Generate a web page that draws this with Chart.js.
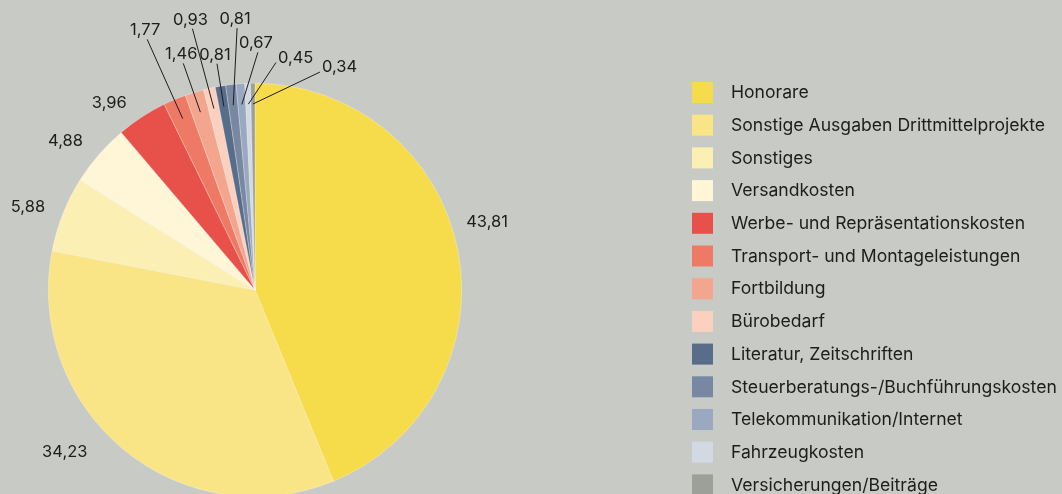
<!DOCTYPE html>
<html lang="de">
<head>
<meta charset="utf-8">
<title>Ausgaben</title>
<script src="https://cdn.jsdelivr.net/npm/chart.js@4.4.1/dist/chart.umd.min.js"></script>
<style>
    html, body {
        margin: 0;
        padding: 0;
        background: #c8cac5;
        overflow: hidden;
    }
    #wrap {
        position: relative;
        width: 1062px;
        height: 500px;
    }
</style>
</head>
<body>
<div id="wrap"><canvas id="pieChart"></canvas></div>
<script>
// Data
const categories = [
    'Honorare',
    'Sonstige Ausgaben Drittmittelprojekte',
    'Sonstiges',
    'Versandkosten',
    'Werbe- und Repräsentationskosten',
    'Transport- und Montageleistungen',
    'Fortbildung',
    'Bürobedarf',
    'Literatur, Zeitschriften',
    'Steuerberatungs-/Buchführungskosten',
    'Telekommunikation/Internet',
    'Fahrzeugkosten',
    'Versicherungen/Beiträge'
];
const shares = [43.81, 34.23, 5.88, 4.88, 3.96, 1.77, 1.46, 0.93, 0.81, 0.81, 0.67, 0.45, 0.34];

const sliceColors = [
    '#f6dc4a', '#f9e586', '#fcefb4', '#fef6d6',
    '#e8514a', '#ee7a66', '#f4a58e', '#fbd0bf',
    '#586d8a', '#7888a3', '#9aa8c0', '#d2d9e4', '#9d9f99'
];

// Label placement: shift from slice middle (deg), distance (x radius), leader line, text side
const labelShift = [-5.2, 10.2, -1.4, -2.8, -4.8, -0.4, -0.5, -0.7, 0.1, 2.8, 4.75, 7.3, 17.2];
const labelDist = [1.17, 1.21, 1.17, 1.165, 1.145, 1.32, 1.15, 1.30, 1.11, 1.27, 1.15, 1.105, 1.10];
const labelSide = ['c', 'c', 'c', 'c', 'c', 'up', 'up', 'up', 'up', 'up', 'up', 'right', 'right'];

const FONT = 'Inter, "DejaVu Sans", sans-serif';
const TEXT = '#1d1d1b';

function fmt(v) {
    return v.toFixed(2).replace('.', ',');
}

// slice labels with leader lines for the small ones
const sliceLabels = {
    id: 'sliceLabels',
    afterDatasetsDraw(chart) {
        const ctx = chart.ctx;
        const meta = chart.getDatasetMeta(0);
        ctx.save();
        ctx.font = '16.5px ' + FONT;
        ctx.fillStyle = TEXT;
        ctx.strokeStyle = '#1d1d1b';
        ctx.lineWidth = 1;
        meta.data.forEach((arc, i) => {
            const r = arc.outerRadius;
            const mid = (arc.startAngle + arc.endAngle) / 2;
            const a = mid + labelShift[i] * Math.PI / 180;
            const px = arc.x + Math.cos(a) * r * labelDist[i];
            const py = arc.y + Math.sin(a) * r * labelDist[i];
            const txt = fmt(shares[i]);
            if (labelSide[i] === 'c') {
                ctx.textAlign = 'center';
                ctx.textBaseline = 'middle';
                ctx.fillText(txt, px, py);
                return;
            }
            // leader line from inside the slice
            const ix = arc.x + Math.cos(mid) * r * 0.9;
            const iy = arc.y + Math.sin(mid) * r * 0.9;
            ctx.beginPath();
            ctx.moveTo(ix, iy);
            ctx.lineTo(px, py);
            ctx.stroke();
            if (labelSide[i] === 'up') {
                ctx.textAlign = 'center';
                ctx.textBaseline = 'alphabetic';
                ctx.fillText(txt, px - 2, py - 4);
            } else {
                ctx.textAlign = 'left';
                ctx.textBaseline = 'middle';
                ctx.fillText(txt, px + 2, py - 5);
            }
        });
        ctx.restore();
    }
};

// legend on the right, drawn by hand so it can run past the bottom edge
const sideLegend = {
    id: 'sideLegend',
    afterDraw(chart) {
        const ctx = chart.ctx;
        const labels = chart.data.labels;
        const colors = chart.data.datasets[0].backgroundColor;
        ctx.save();
        ctx.font = '17.6px ' + FONT;
        ctx.fillStyle = TEXT;
        ctx.textAlign = 'left';
        ctx.textBaseline = 'middle';
        labels.forEach((lab, i) => {
            const top = 82 + i * 32.7;
            ctx.fillStyle = colors[i];
            ctx.fillRect(692, top, 21, 21);
            ctx.fillStyle = TEXT;
            ctx.fillText(lab, 731, top + 11);
        });
        ctx.restore();
    }
};

const ctx = document.getElementById('pieChart').getContext('2d');
const pieChart = new Chart(ctx, {
    type: 'pie',
    data: {
        labels: categories,
        datasets: [{
            data: shares,
            backgroundColor: sliceColors,
            borderColor: 'rgba(255,255,255,0.45)',
            borderWidth: 0.6
        }]
    },
    options: {
        responsive: true,
        maintainAspectRatio: false,
        animation: false,
        layout: {
            padding: { top: 83, bottom: 3, left: 48, right: 600 }
        },
        plugins: {
            legend: { display: false },
            tooltip: { enabled: false }
        }
    },
    plugins: [sliceLabels, sideLegend]
});
</script>
</body>
</html>
